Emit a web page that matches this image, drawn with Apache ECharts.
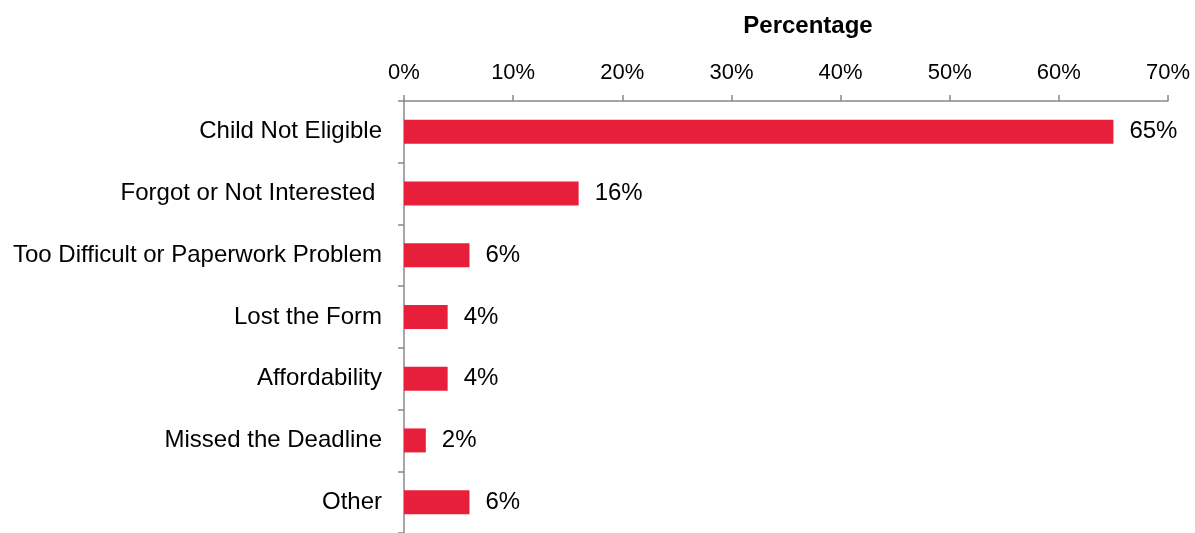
<!DOCTYPE html>
<html><head><meta charset="utf-8">
<script src="https://cdn.jsdelivr.net/npm/echarts@6/dist/echarts.min.js"></script>
<style>html,body{margin:0;padding:0;background:#fff}#c{width:1195px;height:533px}</style>
</head><body><div id="c"></div>
<script>
const categories = ["Child Not Eligible","Forgot or Not Interested ","Too Difficult or Paperwork Problem","Lost the Form","Affordability","Missed the Deadline","Other"];
const values = [65,16,6,4,4,2,6];
const axisTitle = "Percentage";

const chart = echarts.init(document.getElementById('c'));
chart.setOption({
  animation:false,
  textStyle:{fontFamily:'Liberation Sans, Arial, sans-serif'},
  title:{text:axisTitle,left:803,top:9,textAlign:'center',
    textStyle:{fontSize:24,fontWeight:'bold',color:'#000',fontFamily:'Liberation Sans, Arial, sans-serif'}},
  grid:{left:404,right:27,top:101,bottom:-4,containLabel:false},
  xAxis:{type:'value',position:'top',min:0,max:70,interval:10,
    axisLine:{show:true,lineStyle:{color:'#888',width:1.5}},
    axisTick:{show:true,length:6,lineStyle:{color:'#888',width:1.5}},
    splitLine:{show:false},
    axisLabel:{formatter:'{value}%',fontSize:22,color:'#000',margin:17}},
  yAxis:{type:'category',inverse:true,data:categories,
    axisLine:{show:true,lineStyle:{color:'#888',width:1.5}},
    axisTick:{show:true,length:6,lineStyle:{color:'#888',width:1.5}},
    axisLabel:{fontSize:24,color:'#000',margin:22}},
  series:[{type:'bar',data:values,barWidth:24,itemStyle:{color:'#E81F3A'},
    label:{show:true,position:'right',distance:16,formatter:'{c}%',fontSize:24,color:'#000'}}]
});
</script></body></html>
